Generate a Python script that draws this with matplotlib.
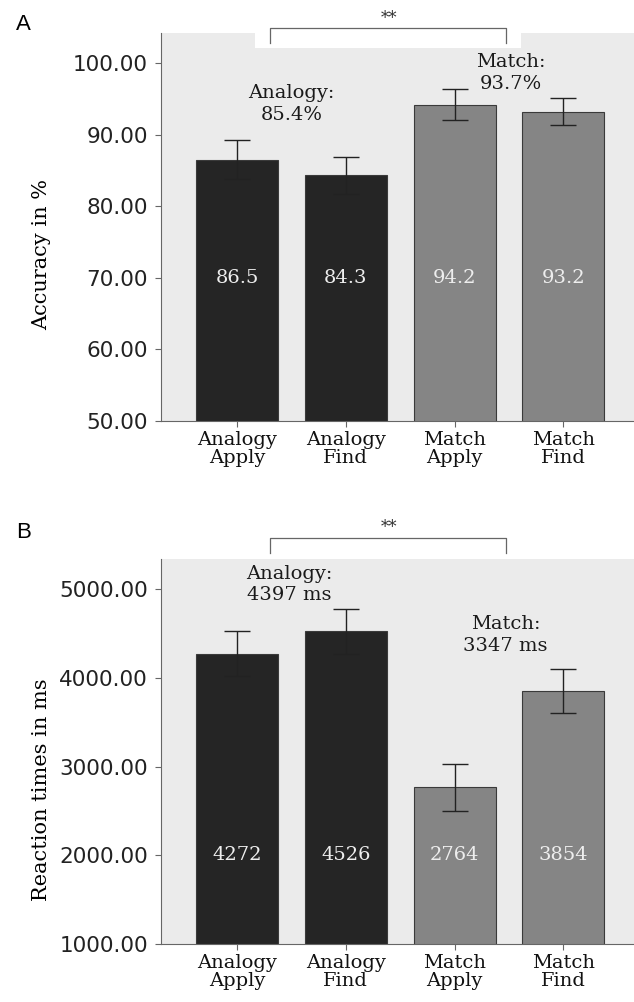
import numpy as np
import matplotlib
matplotlib.use("Agg")
import matplotlib.pyplot as plt
from matplotlib.patches import Rectangle

# data
conditions = ["Analogy\nApply", "Analogy\nFind", "Match\nApply", "Match\nFind"]
acc_mean = [86.5, 84.3, 94.2, 93.2]
acc_err = [2.7, 2.6, 2.2, 1.9]
rt_mean = [4272, 4526, 2764, 3854]
rt_err = [255, 255, 270, 250]
acc_labels = ["86.5", "84.3", "94.2", "93.2"]
rt_labels = ["4272", "4526", "2764", "3854"]
acc_groups = ["Analogy:\n85.4%", "Match:\n93.7%"]
rt_groups = ["Analogy:\n4397 ms", "Match:\n3347 ms"]

bar_colors = ["#252525", "#252525", "#858585", "#858585"]
bg = "#ebebeb"
serif = "DejaVu Serif"
sans = "DejaVu Sans"

fig = plt.figure(figsize=(6.34, 10.02), dpi=100)
axA = fig.add_axes([0.254, 0.580, 0.746, 0.387])
axB = fig.add_axes([0.254, 0.058, 0.746, 0.384])

def draw_panel(ax, means, errs, labels, ylim, ticks, label_y):
    x = np.arange(len(means))
    ax.set_facecolor(bg)
    ax.bar(x, means, width=0.755, color=bar_colors, edgecolor="#3a3a3a", linewidth=0.8, zorder=2)
    ax.errorbar(x, means, yerr=errs, fmt="none", ecolor="#222222", elinewidth=1.0,
                capsize=9.5, capthick=1.0, zorder=3)
    for xi, lab in zip(x, labels):
        ax.text(xi, label_y, lab, color="#eeeeee", ha="center", va="center",
                family=serif, fontsize=14, zorder=4)
    ax.set_xlim(-0.70, 3.65)
    ax.set_ylim(*ylim)
    ax.set_yticks(ticks)
    ax.set_yticklabels(["%.2f" % t for t in ticks], family=sans, fontsize=15.5, color="#222222")
    ax.set_xticks(x)
    ax.set_xticklabels(conditions, family=serif, fontsize=14, linespacing=0.95, color="#111111")
    for s in ["top", "right"]:
        ax.spines[s].set_visible(False)
    for s in ["left", "bottom"]:
        ax.spines[s].set_color("#666666")
    ax.tick_params(direction="out", length=4.5, color="#666666", pad=5)
    ax.tick_params(axis="x", pad=3)

draw_panel(axA, acc_mean, acc_err, acc_labels, (50, 104.2), [50, 60, 70, 80, 90, 100], 70)
draw_panel(axB, rt_mean, rt_err, rt_labels, (1000, 5339), [1000, 2000, 3000, 4000, 5000], 2000)

# white notch behind the bracket in panel A
axA.add_patch(Rectangle((0.16, 102.1), 2.45, 3.0, facecolor="white", edgecolor="none", zorder=1, clip_on=False))

def bracket(ax, y, y_low, star_y):
    ax.plot([0.30, 0.30, 2.47, 2.47], [y_low, y, y, y_low], color="#666666", lw=0.9, clip_on=False, zorder=5)
    ax.text(1.4, star_y, "**", ha="center", va="center", family=serif, fontsize=12, color="#333333")

bracket(axA, 104.9, 102.8, 106.3)
bracket(axB, 5576, 5407, 5690)

ann = dict(ha="center", va="center", family=serif, fontsize=14, color="#1a1a1a", linespacing=1.25)
axA.text(0.5, 94.3, acc_groups[0], **ann)
axA.text(2.52, 98.6, acc_groups[1], **ann)
axB.text(0.48, 5050, rt_groups[0], **ann)
axB.text(2.47, 4486, rt_groups[1], **ann)

fig.text(0.066, 1 - 254 / 1002, "Accuracy in %", family=serif, fontsize=15, rotation=90, ha="center", va="center")
fig.text(0.066, 1 - 790 / 1002, "Reaction times in ms", family=serif, fontsize=15, rotation=90, ha="center", va="center")

fig.text(0.025, 1 - 25 / 1002, "A", family="Liberation Sans", fontsize=16, va="center")
fig.text(0.025, 1 - 533 / 1002, "B", family="Liberation Sans", fontsize=16, va="center")

fig.savefig("out.png", dpi=100)
